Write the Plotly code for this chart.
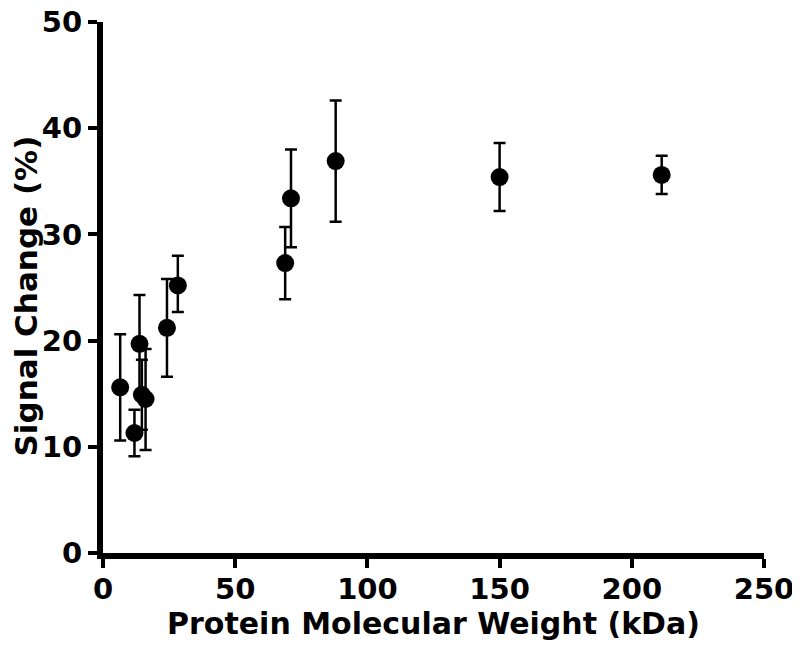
import plotly.graph_objects as go

# protein molecular weight (kDa) vs signal change (%)
mw = [6.5, 11.9, 13.8, 14.7, 16.1, 24.2, 28.3, 68.9, 71.1, 88.0, 150.0, 211.3]
signal = [15.6, 11.3, 19.7, 14.9, 14.5, 21.2, 25.2, 27.3, 33.4, 36.9, 35.4, 35.6]
err_up = [5.0, 2.2, 4.6, 3.3, 4.7, 4.6, 2.8, 3.4, 4.6, 5.7, 3.2, 1.8]
err_down = [5.0, 2.2, 4.6, 3.3, 4.8, 4.6, 2.5, 3.4, 4.6, 5.7, 3.2, 1.8]

x_ticks = [0, 50, 100, 150, 200, 250]
y_ticks = [0, 10, 20, 30, 40, 50]

font_family = "DejaVu Sans, Arial, sans-serif"

fig = go.Figure()
fig.add_trace(go.Scatter(
    x=mw,
    y=signal,
    mode='markers',
    marker=dict(color='black', size=18, symbol='circle'),
    error_y=dict(
        type='data',
        symmetric=False,
        array=err_up,
        arrayminus=err_down,
        color='black',
        thickness=2.5,
        width=6
    ),
    cliponaxis=False,
    showlegend=False
))

axis_style = dict(
    showline=True,
    linecolor='black',
    linewidth=6,
    ticks='outside',
    ticklen=9,
    tickwidth=4,
    tickcolor='black',
    showgrid=False,
    zeroline=False,
    automargin=False,
    ticklabeloverflow='allow',
    tickfont=dict(family=font_family, size=29, color='black', weight='bold'),
)

# page body has an 8px margin, so the figure is 8px smaller each way
fig.update_layout(
    width=792,
    height=648,
    plot_bgcolor='white',
    paper_bgcolor='white',
    margin=dict(l=95, r=36, t=13.5, b=103),
    xaxis=dict(
        range=[0, 250],
        tickvals=x_ticks,
        ticklabelstandoff=-4,
        title=dict(text="Protein Molecular Weight (kDa)",
                   font=dict(family=font_family, size=30, color='black', weight='bold'),
                   standoff=10),
        **axis_style
    ),
    yaxis=dict(
        range=[0, 50],
        tickvals=y_ticks,
        **axis_style
    ),
)

# y title as a rotated annotation so it sits clear of the tick labels
fig.add_annotation(
    text="Signal Change (%)",
    xref='paper', yref='paper',
    x=-0.1165, y=0.485,
    xanchor='center', yanchor='middle',
    textangle=-90,
    showarrow=False,
    borderpad=0,
    font=dict(family=font_family, size=31, color='black', weight='bold'),
)

fig.write_html("out.html")
